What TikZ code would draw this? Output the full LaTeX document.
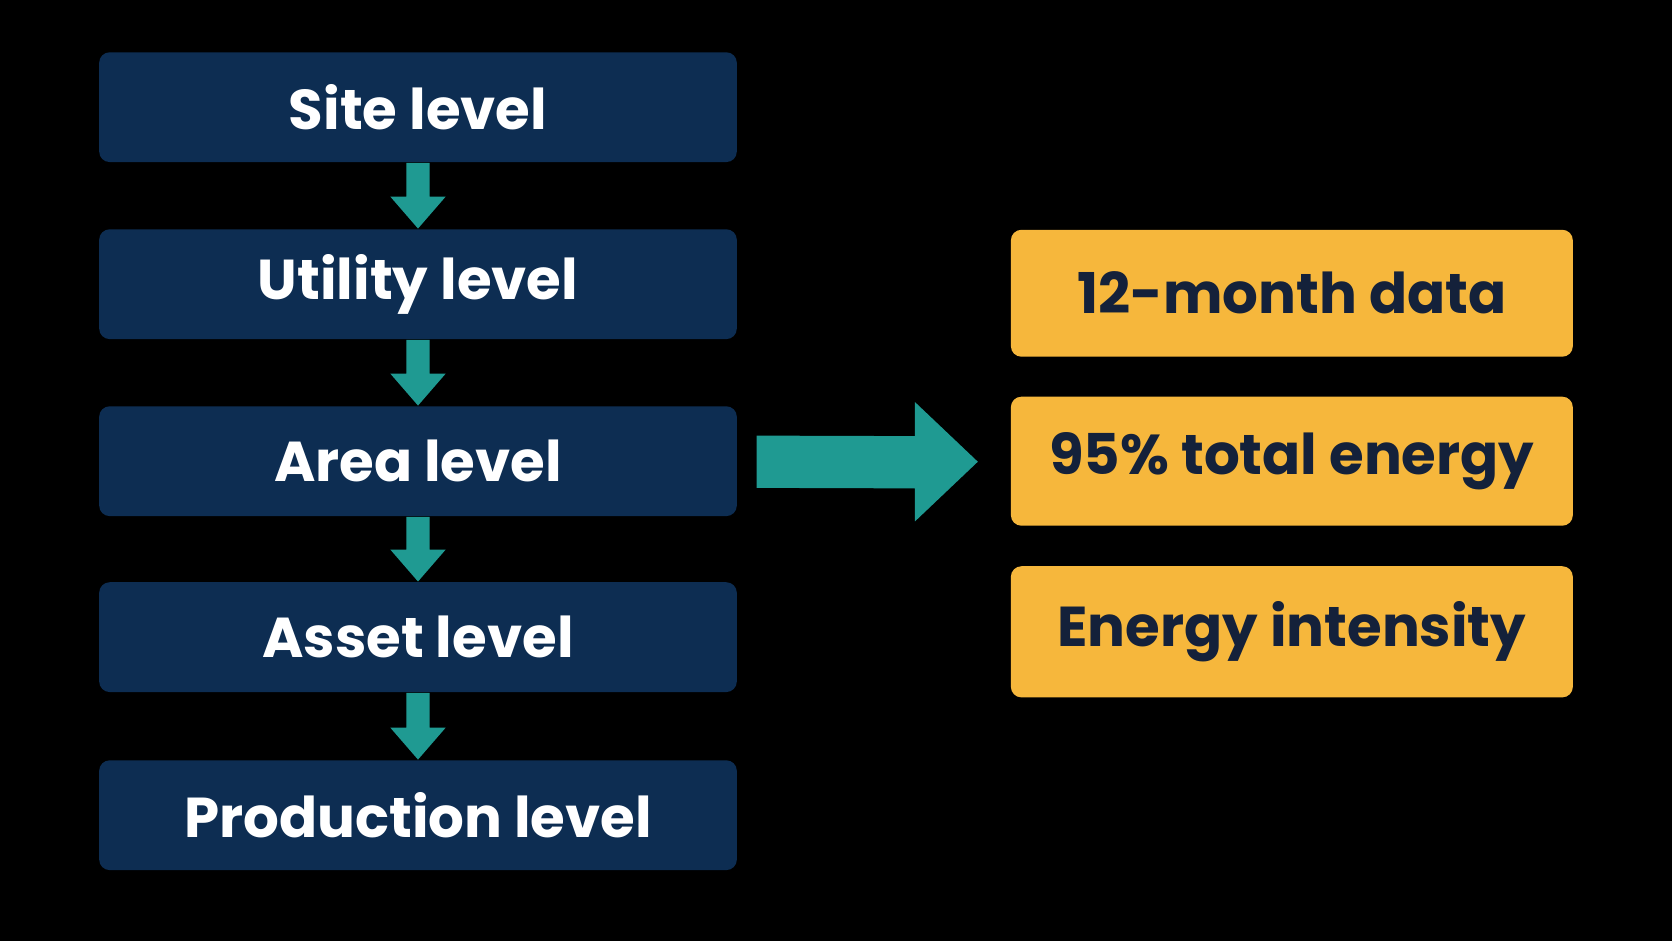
\documentclass[tikz,border=0pt]{standalone}
\usepackage{fontspec}
\setmainfont{Poppins}
\usetikzlibrary{calc}
\definecolor{navy}{HTML}{0D2D52}
\definecolor{tealc}{HTML}{1F9A92}
\definecolor{gold}{HTML}{F6B73C}
\definecolor{ink}{HTML}{14213A}
\newcommand{\levelArrow}[2]{
  \fill[tealc] ($(#1.south)+(-11,0)$) -- ($(#1.south)+(11,0)$) -- ($(#2.north)+(11,-30)$)
    -- ($(#2.north)+(26,-30)$) -- (#2.north) -- ($(#2.north)+(-26,-30)$) -- ($(#2.north)+(-11,-30)$) -- cycle;
}
\begin{document}
\begin{tikzpicture}[x=0.010663cm, y=-0.010663cm,
  level/.style={fill=navy, rounded corners=3pt, minimum width=598*0.010663cm, minimum height=103*0.010663cm,
    text=white, font=\fontsize{16}{18}\selectfont\bfseries, inner sep=0pt},
  fact/.style={fill=gold, rounded corners=3pt, minimum width=527*0.010663cm, minimum height=119*0.010663cm,
    text=ink, font=\fontsize{16}{18}\selectfont\bfseries, inner sep=0pt}]
  \fill[black] (0,0) rectangle (1568,882);

  \node[level] (site) at (392,100.5) {Site level};
  \node[level] (utility) at (392,266.5) {Utility level};
  \node[level] (area) at (392,432.5) {Area level};
  \node[level] (asset) at (392,597.5) {Asset level};
  \node[level] (production) at (392,764.5) {Production level};

  \levelArrow{site}{utility}
  \levelArrow{utility}{area}
  \levelArrow{area}{asset}
  \levelArrow{asset}{production}

  \node[fact] (months) at (1211.5,275) {12-month data};
  \node[fact, minimum height=121*0.010663cm] (share) at (1211.5,432.5) {95\% total energy};
  \node[fact, minimum height=123*0.010663cm] (intensity) at (1211.5,592.5) {Energy intensity};

  % big arrow from the levels to the data boxes
  \coordinate (tip) at (917,433);
  \fill[tealc] ($(area.east)+(18,-24)$) -- ($(tip)+(-59,-24)$) -- ($(tip)+(-59,-56)$) -- (tip)
    -- ($(tip)+(-59,56)$) -- ($(tip)+(-59,25)$) -- ($(area.east)+(18,25)$) -- cycle;
\end{tikzpicture}
\end{document}
